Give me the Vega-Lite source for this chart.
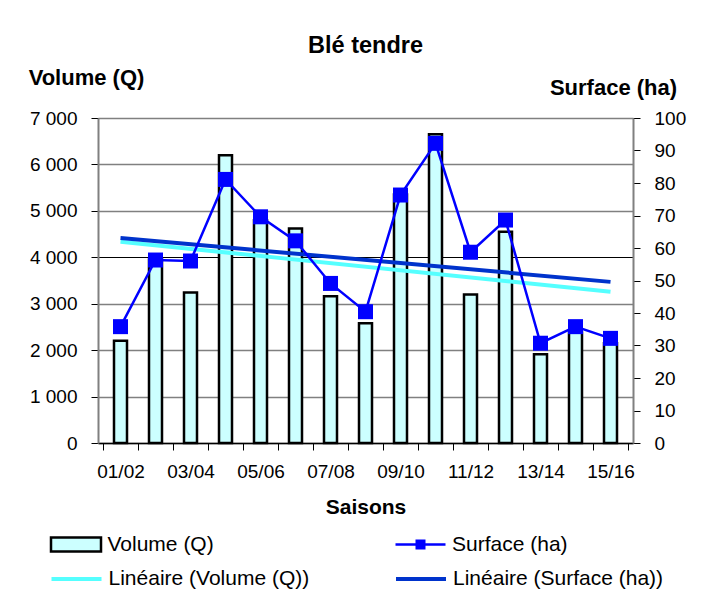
{
  "$schema": "https://vega.github.io/schema/vega-lite/v6.json",
  "autosize": "none",
  "width": 535,
  "height": 325,
  "padding": {"left": 98, "top": 118, "right": 68, "bottom": 150},
  "background": "white",
  "config": {
    "font": "Liberation Sans",
    "view": {"stroke": null},
    "axis": {"labelColor": "black", "titleColor": "black", "labelFont": "Liberation Sans", "titleFont": "Liberation Sans"},
    "legend": {"orient": "none", "padding": 0, "title": null, "labelFontSize": 21, "labelFont": "Liberation Sans", "labelColor": "black", "labelLimit": 400, "labelOffset": 5, "symbolSize": 2500, "symbolOpacity": 1}
  },
  "title": {"text": "Blé tendre", "fontSize": 23.5, "fontWeight": "bold", "font": "Liberation Sans", "color": "black", "anchor": "middle", "offset": 9},
  "data": {
    "values": [
      {"i": 1, "saison": "01/02", "volume": 2200, "surface": 35.8},
      {"i": 2, "saison": "02/03", "volume": 3950, "surface": 56.3},
      {"i": 3, "saison": "03/04", "volume": 3240, "surface": 56.0},
      {"i": 4, "saison": "04/05", "volume": 6200, "surface": 81.1},
      {"i": 5, "saison": "05/06", "volume": 4800, "surface": 69.6},
      {"i": 6, "saison": "06/07", "volume": 4620, "surface": 62.2},
      {"i": 7, "saison": "07/08", "volume": 3160, "surface": 49.1},
      {"i": 8, "saison": "08/09", "volume": 2580, "surface": 40.4},
      {"i": 9, "saison": "09/10", "volume": 5350, "surface": 76.3},
      {"i": 10, "saison": "10/11", "volume": 6650, "surface": 92.2},
      {"i": 11, "saison": "11/12", "volume": 3200, "surface": 58.7},
      {"i": 12, "saison": "12/13", "volume": 4550, "surface": 68.6},
      {"i": 13, "saison": "13/14", "volume": 1910, "surface": 30.7},
      {"i": 14, "saison": "14/15", "volume": 2380, "surface": 35.8},
      {"i": 15, "saison": "15/16", "volume": 2150, "surface": 32.2}
    ]
  },
  "encoding": {
    "x": {
      "field": "i",
      "type": "quantitative",
      "scale": {"domain": [0.5, 15.5], "nice": false, "zero": false},
      "axis": {
        "title": "Saisons",
        "titleFontSize": 21,
        "titleFontWeight": "bold",
        "titlePadding": 15,
        "values": [0.5, 1, 1.5, 2, 2.5, 3, 3.5, 4, 4.5, 5, 5.5, 6, 6.5, 7, 7.5, 8, 8.5, 9, 9.5, 10, 10.5, 11, 11.5, 12, 12.5, 13, 13.5, 14, 14.5, 15, 15.5],
        "labelExpr": "datum.value % 2 === 1 ? ['01/02','02/03','03/04','04/05','05/06','06/07','07/08','08/09','09/10','10/11','11/12','12/13','13/14','14/15','15/16'][datum.value - 1] : ''",
        "labelFontSize": 19,
        "labelPadding": 12,
        "labelFlush": false,
        "labelOverlap": false,
        "tickSize": 7,
        "tickColor": "black",
        "tickWidth": 1,
        "tickOpacity": {"condition": {"test": "datum.value % 1 !== 0", "value": 1}, "value": 0},
        "domainColor": "black",
        "domainWidth": 1.5,
        "grid": false
      }
    }
  },
  "layer": [
    {
      "encoding": {
        "y": {
          "field": "volume",
          "type": "quantitative",
          "scale": {"domain": [0, 7000], "nice": false},
          "axis": {
            "title": "Volume (Q)",
            "titleAngle": 0,
            "titleX": -12,
            "titleY": -41,
            "titleAlign": "center",
            "titleBaseline": "middle",
            "titleFontSize": 22,
            "titleFontWeight": "bold",
            "values": [0, 1000, 2000, 3000, 4000, 5000, 6000, 7000],
            "labelExpr": "replace(format(datum.value, ','), ',', ' ')",
            "labelFontSize": 19,
            "labelPadding": 14,
            "tickSize": 7,
            "tickColor": "black",
            "domainColor": "#808080",
            "domainWidth": 2,
            "grid": true,
            "gridColor": {"condition": {"test": "datum.value === 4000", "value": "black"}, "value": "#808080"},
            "gridWidth": {"condition": {"test": "datum.value === 4000", "value": 1}, "value": 1.5}
          }
        }
      },
      "layer": [
        {
          "mark": {"type": "bar", "size": 13, "stroke": "black", "strokeWidth": 2.5},
          "encoding": {
            "color": {
              "datum": "Volume (Q)",
              "type": "nominal",
              "scale": {"range": ["#ccffff"]},
              "legend": {"legendX": -48.5, "legendY": 400, "symbolType": "M-1,-0.28H1V0.28H-1Z", "symbolStrokeColor": "black", "symbolStrokeWidth": 2.5}
            }
          }
        },
        {
          "transform": [{"regression": "volume", "on": "i"}],
          "mark": {"type": "line", "strokeWidth": 4},
          "encoding": {
            "color": {
              "datum": "Linéaire (Volume (Q))",
              "type": "nominal",
              "scale": {"range": ["#55ffff"]},
              "legend": {"legendX": -48.5, "legendY": 434, "symbolType": "M-1,0H1", "symbolStrokeWidth": 4}
            }
          }
        }
      ],
      "resolve": {"scale": {"color": "independent"}, "legend": {"color": "independent"}}
    },
    {
      "encoding": {
        "y": {
          "field": "surface",
          "type": "quantitative",
          "scale": {"domain": [0, 100], "nice": false},
          "axis": {
            "orient": "right",
            "title": "Surface (ha)",
            "titleAngle": 0,
            "titleX": -20,
            "titleY": -31,
            "titleAlign": "center",
            "titleBaseline": "middle",
            "titleFontSize": 22,
            "titleFontWeight": "bold",
            "values": [0, 10, 20, 30, 40, 50, 60, 70, 80, 90, 100],
            "labelFontSize": 19,
            "labelPadding": 14,
            "tickSize": 7,
            "tickColor": "black",
            "domainColor": "#808080",
            "domainWidth": 2,
            "grid": false
          }
        }
      },
      "layer": [
        {
          "transform": [{"regression": "surface", "on": "i"}],
          "mark": {"type": "line", "strokeWidth": 4},
          "encoding": {
            "color": {
              "datum": "Linéaire (Surface (ha))",
              "type": "nominal",
              "scale": {"range": ["#0033cc"]},
              "legend": {"legendX": 296, "legendY": 434, "symbolType": "M-1,0H1", "symbolStrokeWidth": 4}
            }
          }
        },
        {
          "layer": [
            {
              "mark": {"type": "line", "strokeWidth": 2.5},
              "encoding": {
                "color": {
                  "datum": "Surface (ha)",
                  "type": "nominal",
                  "scale": {"range": ["#0000ff"]},
                  "legend": {"legendX": 296, "legendY": 400, "symbolType": "M-1,0H1M-0.15,-0.15H0.15V0.15H-0.15Z", "symbolStrokeWidth": 2.5, "symbolFillColor": "#0000ff"}
                }
              }
            },
            {
              "mark": {"type": "point", "shape": "square", "filled": true, "size": 225, "opacity": 1},
              "encoding": {
                "color": {
                  "datum": "Surface (ha)",
                  "type": "nominal",
                  "scale": {"range": ["#0000ff"]},
                  "legend": {"legendX": 296, "legendY": 400, "symbolType": "M-1,0H1M-0.15,-0.15H0.15V0.15H-0.15Z", "symbolStrokeWidth": 2.5, "symbolFillColor": "#0000ff"}
                }
              }
            }
          ]
        }
      ],
      "resolve": {"scale": {"color": "independent"}, "legend": {"color": "independent"}}
    }
  ],
  "resolve": {"scale": {"y": "independent", "color": "independent"}, "legend": {"color": "independent"}}
}
